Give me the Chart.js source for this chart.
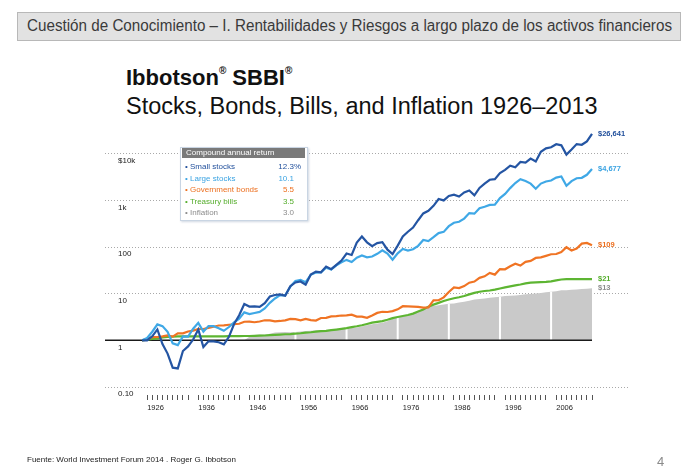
<!DOCTYPE html>
<html>
<head>
<meta charset="utf-8">
<script src="https://cdn.jsdelivr.net/npm/chart.js@4.4.1/dist/chart.umd.min.js"></script>
<style>
  body { margin: 0; background: #fff; font-family: "Liberation Sans", Arial, sans-serif; }
  #page { position: relative; width: 690px; height: 473px; overflow: hidden; }
  #hdr { position: absolute; left: 17px; top: 12px; width: 662px; height: 27px; background: #e2e2e2; border: 1px solid #b8b8b8; }
  #hdrText { position: absolute; left: 9px; top: 4px; font-size: 16px; color: #3a3a3a; white-space: nowrap; transform-origin: 0 0;
    font-family: "Liberation Sans Narrow", "Arial Narrow", "Liberation Sans", sans-serif; }
  #t1 { position: absolute; left: 126px; top: 65px; font-size: 22px; font-weight: bold; color: #111; white-space: nowrap; }
  #t1 sup { font-size: 10px; vertical-align: top; position: relative; top: 0px; }
  #t2 { position: absolute; left: 126px; top: 93px; font-size: 23.5px; color: #111; white-space: nowrap; }
  #c { position: absolute; left: 0; top: 0; }
  #leg { position: absolute; left: 180px; top: 147px; width: 126px; height: 72px; background: #fff;
    border: 1px solid #c9d5e3; box-shadow: 1px 1px 2px rgba(120,140,170,0.35); font-size: 8px; }
  #legHead { position: absolute; left: 1px; top: 0; width: 123px; height: 10px; background: #7a7a7a; color: #fff; line-height: 10px; padding-left: 4px; box-sizing: border-box; }
  .row { position: absolute; left: 4px; height: 10px; line-height: 10px; white-space: nowrap; }
  .val { position: absolute; line-height: 10px; }
  #src { position: absolute; left: 27px; top: 455px; font-size: 8px; color: #222; white-space: nowrap; }
  #pg { position: absolute; left: 657px; top: 454px; font-size: 13px; color: #8a8a8a; }
</style>
</head>
<body>
<div id="page">
  <div id="hdr"><span id="hdrText">Cuestión de Conocimiento – I. Rentabilidades y Riesgos a largo plazo de los activos financieros</span></div>
  <div id="t1">Ibbotson<sup>®</sup> SBBI<sup>®</sup></div>
  <div id="t2">Stocks, Bonds, Bills, and Inflation 1926–2013</div>
  <canvas id="c" width="690" height="473"></canvas>
  <div id="leg"><div id="legHead">Compound annual return</div></div>
  <div id="src">Fuente: World Investment Forum 2014 . Roger G. Ibbotson</div>
  <div id="pg">4</div>
</div>
<script>
// year-end index values, $1 invested at end of 1925
const years = Array.from({ length: 89 }, (_, i) => 1925 + i);

const smallStocks = [
  1.00,
  1.00, 1.22, 1.71, 0.83, 0.52, 0.26, 0.25, 0.59, 0.74, 1.04,
  1.71, 0.72, 0.95, 0.95, 0.91, 0.82, 1.19, 2.24, 3.45, 5.98,
  5.29, 5.34, 5.22, 6.26, 8.68, 9.36, 9.64, 9.02, 14.5, 17.4,
  18.2, 15.5, 25.6, 29.8, 28.8, 38.1, 33.5, 41.5, 51.2, 72.6,
  67.5, 124, 168, 126, 104, 121, 127, 87.6, 70.2, 107,
  169, 212, 261, 375, 524, 597, 764, 1067, 996, 1242,
  1327, 1203, 1479, 1629, 1278, 1848, 2279, 2757, 2843, 3822,
  4496, 5520, 5117, 6641, 6402, 7860, 6816, 10953, 12967, 13705,
  15921, 15090, 9549, 12231, 16055, 15531, 18364, 26641
];
const largeStocks = [
  1.00,
  1.12, 1.53, 2.20, 2.02, 1.52, 0.86, 0.79, 1.21, 1.20, 1.77,
  2.37, 1.54, 2.02, 2.01, 1.81, 1.60, 1.93, 2.43, 2.91, 3.97,
  3.65, 3.85, 4.07, 4.83, 6.36, 7.89, 9.34, 9.24, 14.1, 18.6,
  19.8, 17.6, 25.3, 28.3, 28.5, 36.1, 33.0, 40.5, 47.1, 53.0,
  47.7, 59.1, 65.6, 60.1, 62.5, 71.4, 85.0, 72.5, 53.3, 73.1,
  90.6, 84.1, 89.6, 106, 141, 134, 162, 199, 211, 279,
  331, 348, 406, 534, 517, 676, 727, 800, 811, 1114,
  1371, 1828, 2351, 2846, 2587, 2279, 1775, 2284, 2533, 2658,
  3077, 3246, 2045, 2586, 2976, 3039, 3525, 4677
];
const govBonds = [
  1.00,
  1.08, 1.17, 1.18, 1.22, 1.27, 1.20, 1.41, 1.41, 1.55, 1.62,
  1.75, 1.75, 1.85, 1.96, 2.08, 2.10, 2.16, 2.21, 2.27, 2.50,
  2.51, 2.44, 2.53, 2.69, 2.67, 2.56, 2.60, 2.68, 2.88, 2.84,
  2.69, 2.89, 2.71, 2.65, 3.01, 3.04, 3.25, 3.29, 3.40, 3.42,
  3.55, 3.23, 3.21, 3.05, 3.42, 3.87, 4.09, 4.05, 4.22, 4.62,
  5.39, 5.35, 5.29, 5.23, 5.02, 5.09, 7.21, 7.23, 8.34, 10.9,
  13.6, 13.2, 14.5, 17.2, 18.2, 21.8, 23.5, 27.8, 25.6, 33.7,
  33.3, 38.7, 43.7, 39.9, 48.2, 50.5, 58.3, 59.8, 64.5, 69.9,
  70.7, 78.0, 99.0, 84.5, 92.9, 118, 122, 109
];
const tBills = [
  1.00,
  1.03, 1.07, 1.10, 1.16, 1.18, 1.20, 1.21, 1.21, 1.21, 1.21,
  1.22, 1.22, 1.22, 1.22, 1.22, 1.22, 1.23, 1.23, 1.23, 1.24,
  1.24, 1.25, 1.26, 1.27, 1.29, 1.31, 1.33, 1.35, 1.36, 1.39,
  1.42, 1.46, 1.49, 1.53, 1.57, 1.60, 1.65, 1.70, 1.76, 1.83,
  1.92, 2.00, 2.10, 2.24, 2.39, 2.49, 2.59, 2.76, 2.99, 3.16,
  3.32, 3.49, 3.74, 4.13, 4.59, 5.27, 5.82, 6.34, 6.96, 7.50,
  7.96, 8.39, 8.93, 9.67, 10.4, 11.0, 11.4, 11.7, 12.2, 12.9,
  13.6, 14.3, 15.0, 15.7, 16.6, 17.2, 17.5, 17.7, 17.9, 18.4,
  19.3, 20.1, 20.4, 20.5, 20.5, 20.5, 20.5, 20.5
];
const inflation = [
  1.00,
  0.99, 0.97, 0.96, 0.96, 0.90, 0.81, 0.73, 0.73, 0.75, 0.77,
  0.78, 0.80, 0.78, 0.78, 0.79, 0.86, 0.94, 0.97, 0.99, 1.01,
  1.20, 1.30, 1.34, 1.31, 1.39, 1.48, 1.49, 1.50, 1.49, 1.50,
  1.54, 1.59, 1.61, 1.64, 1.66, 1.67, 1.69, 1.72, 1.74, 1.78,
  1.84, 1.89, 1.98, 2.10, 2.22, 2.29, 2.37, 2.58, 2.89, 3.09,
  3.24, 3.46, 3.77, 4.27, 4.81, 5.24, 5.44, 5.65, 5.87, 6.09,
  6.16, 6.43, 6.72, 7.03, 7.47, 7.70, 7.92, 8.14, 8.36, 8.57,
  8.86, 9.01, 9.16, 9.40, 9.73, 9.88, 10.1, 10.3, 10.7, 11.0,
  11.3, 11.8, 11.8, 12.1, 12.3, 12.6, 12.8, 13.0
];

const seriesNames = ['Small stocks', 'Large stocks', 'Government bonds', 'Treasury bills', 'Inflation'];
const cagrLabels = ['12.3%', '10.1', '5.5', '3.5', '3.0'];
const endLabels = ['$26,641', '$4,677', '$109', '$21', '$13'];
const yTickValues = [0.1, 1, 10, 100, 1000, 10000];
const yTickLabels = ['0.10', '1', '10', '100', '1k', '$10k'];
const xTickLabels = ['1926', '1936', '1946', '1956', '1966', '1976', '1986', '1996', '2006'];

const lineColors = ['#2455a3', '#3fa8e6', '#f07424', '#5db532', '#c9c9c9'];
const textColors = ['#22509c', '#3aa3e2', '#ec6f1f', '#55ad2c', '#8c8c8c'];
const allSeries = [smallStocks, largeStocks, govBonds, tBills, inflation];

// header text squeezed to the width of the bar
const hdrText = document.getElementById('hdrText');
const hw = hdrText.getBoundingClientRect().width;
hdrText.style.transform = 'scaleX(' + (645 / hw) + ')';

// legend box
const leg = document.getElementById('leg');
const rowTops = [14, 25.5, 37, 48.5, 60];
seriesNames.forEach((name, i) => {
  const row = document.createElement('div');
  row.className = 'row';
  row.style.top = rowTops[i] + 'px';
  row.style.color = textColors[i];
  row.textContent = '\u2022 ' + name;
  leg.appendChild(row);
  const val = document.createElement('div');
  val.className = 'val';
  val.style.top = rowTops[i] + 'px';
  val.style.right = (i === 0 ? 6 : 13) + 'px';
  val.style.color = textColors[i];
  val.textContent = cagrLabels[i];
  leg.appendChild(val);
});

Chart.defaults.font.family = '"Liberation Sans", Arial, sans-serif';

const decor = {
  id: 'decor',
  afterDatasetDraw(chart, args) {
    if (args.index !== 4) return;
    const ctx = chart.ctx, xs = chart.scales.x, ys = chart.scales.y;
    const base = ys.getPixelForValue(1);
    ctx.save();
    // white separators in the inflation area
    ctx.strokeStyle = '#fff';
    ctx.lineWidth = 2;
    years.forEach((yr, i) => {
      if (yr >= 1945 && (yr - 1925) % 10 === 0) {
        const px = xs.getPixelForValue(yr);
        ctx.beginPath();
        ctx.moveTo(px, base);
        ctx.lineTo(px, ys.getPixelForValue(inflation[i]));
        ctx.stroke();
      }
    });
    // $1 line
    ctx.strokeStyle = '#1a1a1a';
    ctx.lineWidth = 1.5;
    ctx.beginPath();
    ctx.moveTo(chart.chartArea.left, base);
    ctx.lineTo(xs.getPixelForValue(years[years.length - 1]), base);
    ctx.stroke();
    ctx.restore();
  },
  afterDatasetsDraw(chart) {
    const ctx = chart.ctx;
    ctx.save();
    ctx.font = 'bold 7.5px "Liberation Sans", Arial, sans-serif';
    ctx.textBaseline = 'middle';
    ctx.textAlign = 'left';
    endLabels.forEach((lab, i) => {
      const pts = chart.getDatasetMeta(i).data;
      const p = pts[pts.length - 1];
      ctx.fillStyle = textColors[i];
      ctx.fillText(lab, p.x + 6, p.y);
    });
    ctx.restore();
  }
};

new Chart(document.getElementById('c'), {
  type: 'line',
  data: {
    datasets: allSeries.map((s, i) => ({
      label: seriesNames[i],
      data: s.map((v, j) => ({ x: years[j], y: v })),
      borderColor: lineColors[i],
      backgroundColor: lineColors[i],
      borderWidth: i === 4 ? 0 : 2.2,
      pointRadius: 0,
      tension: 0,
      fill: i === 4 ? { target: { value: 1 }, above: '#c9c9c9', below: 'rgba(0,0,0,0)' } : false
    }))
  },
  options: {
    responsive: false,
    animation: false,
    layout: { padding: { left: 105, top: 107, right: 60, bottom: 48 } },
    plugins: { legend: { display: false }, tooltip: { enabled: false } },
    scales: {
      x: {
        type: 'linear',
        min: 1917.76,
        max: 2020.43,
        afterBuildTicks: s => { s.ticks = years.filter(y => y >= 1926).map(v => ({ value: v })); },
        afterFit: s => { s.height = 30; },
        border: { display: false },
        grid: {
          drawOnChartArea: false,
          tickLength: 5,
          lineWidth: 1,
          color: c => (c.tick && (c.tick.value - 1925) % 10 === 0) ? 'rgba(0,0,0,0)' : '#555'
        },
        ticks: {
          autoSkip: false,
          maxRotation: 0,
          align: 'start',
          padding: 3,
          color: '#222',
          font: { size: 7.5, family: '"Liberation Sans Narrow", "Arial Narrow", "Liberation Sans", sans-serif' },
          callback: v => (v - 1926) % 10 === 0 ? xTickLabels[(v - 1926) / 10] : ''
        }
      },
      y: {
        type: 'logarithmic',
        min: 0.0674,
        max: 100000,
        afterBuildTicks: s => { s.ticks = yTickValues.map(v => ({ value: v })); },
        afterFit: s => { s.width = 0; },
        border: { display: false, dash: [1, 2] },
        grid: {
          drawTicks: false,
          lineWidth: 1,
          color: c => (c.tick && c.tick.value === 1) ? 'rgba(0,0,0,0)' : '#a9a9a9'
        },
        ticks: {
          mirror: true,
          padding: 13,
          labelOffset: 7,
          color: '#222',
          font: { size: 8 },
          callback: (v, i) => yTickLabels[i]
        }
      }
    }
  },
  plugins: [decor]
});
</script>
</body>
</html>
